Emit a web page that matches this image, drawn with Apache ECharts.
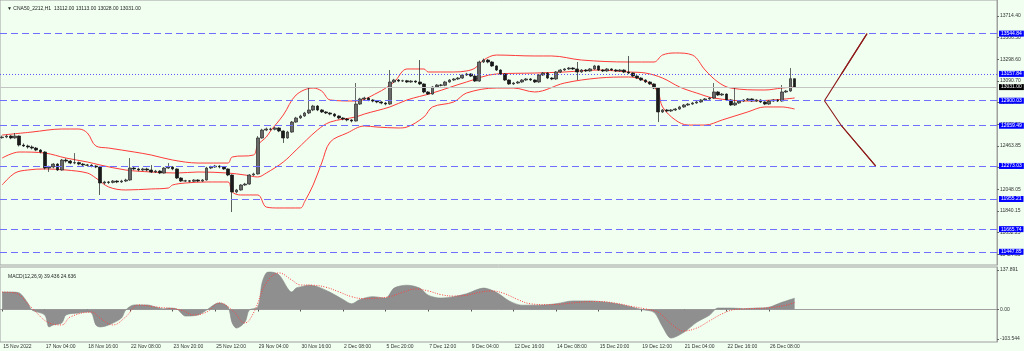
<!DOCTYPE html>
<html><head><meta charset="utf-8">
<script src="https://cdn.jsdelivr.net/npm/echarts@6/dist/echarts.min.js"></script>
<style>html,body{margin:0;padding:0;background:#f0fff0}#c{width:1024px;height:351px}</style>
</head><body><div id="c"></div><script>
const TOTAL_SLOTS = 234;
const titleText = '▼ CNA50_2212,H1  13112.00 13113.00 13028.00 13031.00';
const macdTitle = 'MACD(12,26,9) 39.436 24.636';
const xTickLabels = ['15 Nov 2022','17 Nov 04:00','18 Nov 16:00','22 Nov 08:00','23 Nov 20:00','25 Nov 12:00','29 Nov 04:00','30 Nov 16:00','2 Dec 08:00','5 Dec 20:00','7 Dec 12:00','9 Dec 04:00','12 Dec 16:00','14 Dec 08:00','15 Dec 20:00','19 Dec 12:00','21 Dec 04:00','22 Dec 16:00','26 Dec 08:00'];
const priceTicks = [13714.40,13506.50,13298.60,13090.70,12881.95,12672.90,12463.85,12255.95,12048.05,11840.15,11632.25,11424.35];
const macdTicks = [137.891, 0, -103.544];
const macdTickText = ['137.891','0.00','-103.544'];
const dashedLevels = [13544.84,12900.03,12659.49,12273.03,11955.21,11665.74,11447.85];
const dottedLevel = 13157.84;
const bidPrice = 13031.00;
const arrowUp = [[193,12900.03],[197,13157.84],[203,13544.84]];
const arrowDown = [[193,12900.03],[197,12659.49],[205,12273.03]];

// [open, close, low, high]
const candles = [
[12545,12551,12535,12565],[12551,12561,12540,12575],[12561,12542,12530,12570],[12542,12561,12535,12590],[12561,12474,12460,12565],
[12474,12465,12455,12490],[12465,12455,12440,12478],[12455,12445,12432,12470],[12445,12426,12415,12455],[12426,12407,12395,12435],
[12407,12253,12240,12415],[12253,12263,12215,12275],[12263,12291,12250,12300],[12291,12234,12225,12300],[12234,12330,12228,12340],
[12330,12320,12305,12345],[12320,12301,12290,12330],[12301,12305,12290,12397],[12305,12291,12280,12315],[12291,12282,12270,12300],
[12282,12280,12268,12292],[12280,12272,12260,12290],[12272,12263,12252,12280],[12263,12109,11994,12270],[12109,12119,12095,12130],
[12119,12115,12100,12128],[12115,12128,12105,12138],[12128,12119,12108,12135],[12119,12128,12110,12140],[12128,12138,12118,12150],
[12138,12253,12130,12349],[12253,12244,12232,12265],[12244,12234,12222,12255],[12234,12244,12225,12255],[12244,12234,12222,12256],
[12234,12215,12205,12282],[12215,12224,12205,12235],[12224,12205,12195,12232],[12205,12253,12200,12262],[12253,12263,12245,12301],
[12263,12244,12232,12270],[12244,12157,12148,12250],[12157,12128,12118,12165],[12128,12130,12118,12140],[12130,12126,12115,12138],
[12126,12138,12118,12146],[12138,12128,12118,12145],[12128,12138,12120,12147],[12138,12253,12132,12265],[12253,12263,12243,12275],
[12263,12272,12255,12283],[12272,12263,12250,12280],[12263,12244,12235,12270],[12244,12186,12175,12250],[12186,12023,11830,12192],
[12023,12042,12010,12052],[12042,12090,12035,12098],[12090,12099,12082,12110],[12099,12186,12092,12195],[12186,12196,12178,12208],
[12196,12542,12190,12560],[12542,12618,12535,12630],[12618,12628,12608,12642],[12628,12625,12612,12640],[12625,12638,12615,12650],
[12638,12609,12598,12645],[12609,12542,12494,12615],[12542,12599,12535,12610],[12599,12695,12592,12705],[12695,12734,12688,12745],
[12734,12753,12725,12765],[12753,12782,12745,12792],[12782,12811,12772,13032],[12811,12849,12800,12860],[12849,12811,12800,12858],
[12811,12792,12782,12820],[12792,12782,12772,12800],[12782,12772,12760,12790],[12772,12753,12742,12780],[12753,12734,12722,12760],
[12734,12724,12712,12742],[12724,12715,12702,12732],[12715,12705,12692,12722],[12705,12868,12700,13070],[12868,12917,12860,12928],
[12917,12926,12905,12938],[12926,12907,12895,12935],[12907,12897,12885,12915],[12897,12888,12876,12905],[12888,12878,12866,12896],
[12878,12868,12856,12886],[12868,13080,12860,13195],[13080,13099,13070,13110],[13099,13089,13078,13108],[13089,13092,13080,13102],
[13092,13080,13070,13100],[13080,13089,13072,13098],[13089,13080,13070,13095],[13080,13061,13050,13291],[13061,12984,12972,13068],
[12984,12964,12955,12992],[12964,13032,12958,13040],[13032,13051,13024,13060],[13051,13048,13038,13060],[13048,13080,13040,13090],
[13080,13099,13072,13108],[13099,13109,13090,13118],[13109,13118,13100,13128],[13118,13147,13110,13157],[13147,13157,13138,13168],
[13157,13137,13128,13165],[13137,13089,13080,13145],[13089,13272,13082,13285],[13272,13291,13262,13305],[13291,13272,13260,13300],
[13272,13234,13225,13280],[13234,13195,13186,13240],[13195,13157,13148,13202],[13157,13099,13090,13165],[13099,13061,13052,13106],
[13061,13070,13052,13080],[13070,13080,13062,13090],[13080,13099,13072,13108],[13099,13109,13090,13118],[13109,13099,13090,13118],
[13099,13080,13070,13105],[13080,13147,13072,13156],[13147,13166,13138,13175],[13166,13118,13108,13172],[13118,13109,13098,13126],
[13109,13176,13100,13185],[13176,13195,13168,13205],[13195,13205,13186,13214],[13205,13214,13196,13224],[13214,13205,13195,13222],
[13205,13176,13099,13272],[13176,13195,13168,13204],[13195,13186,13176,13204],[13186,13205,13178,13214],[13205,13234,13198,13244],
[13234,13195,13186,13240],[13195,13186,13176,13204],[13186,13205,13178,13214],[13205,13195,13186,13212],[13195,13186,13176,13204],
[13186,13195,13178,13204],[13195,13176,13166,13202],[13176,13166,13156,13330],[13166,13137,13128,13172],[13137,13118,13108,13145],
[13118,13099,13090,13126],[13099,13080,13070,13106],[13080,13061,13052,13088],[13061,13022,13012,13068],[13022,12792,12695,13030],
[12792,12811,12782,12820],[12811,12801,12790,12820],[12801,12811,12792,12820],[12811,12820,12802,12830],[12820,12840,12812,12850],
[12840,12859,12832,12868],[12859,12868,12850,12878],[12868,12878,12860,12888],[12878,12888,12870,12897],[12888,12907,12880,12916],
[12907,12917,12898,12926],[12917,12926,12908,12935],[12926,12984,12918,13070],[12984,12955,12946,12992],[12955,12964,12946,12974],
[12964,12907,12898,12970],[12907,12859,12850,12914],[12859,12878,12850,13022],[12878,12897,12870,12906],[12897,12907,12888,12916],
[12907,12917,12898,12926],[12917,12897,12888,12924],[12897,12907,12888,12916],[12907,12888,12878,12914],[12888,12868,12858,12895],
[12868,12897,12860,12906],[12897,12907,12888,12916],[12907,12897,12888,12914],[12897,12984,12890,13051],[12984,12993,12975,13002],
[12993,13112,12985,13214],[13112,13031,13028,13113]
];

const bbUpper = [[0,12570],[7,12599],[14,12628],[18,12628],[20,12590],[22,12465],[25,12445],[31,12407],[35,12378],[40,12330],[46,12301],[53,12301],[54,12359],[59,12378],[60,12474],[62,12551],[63,12609],[66,12763],[69,12955],[73,13022],[75,12993],[77,12907],[83,12897],[88,12974],[92,13080],[95,13205],[99,13205],[100,13176],[106,13176],[109,13186],[111,13214],[113,13291],[116,13339],[125,13330],[129,13330],[136,13291],[147,13272],[153,13272],[155,13339],[158,13359],[162,13339],[165,13195],[168,13080],[171,13022],[179,13003],[183,13022],[186,13032]];
const bbMiddle = [[0,12349],[4,12407],[10,12397],[15,12349],[20,12311],[23,12282],[29,12234],[35,12215],[41,12205],[46,12215],[53,12205],[57,12186],[60,12167],[62,12205],[66,12311],[69,12426],[74,12618],[77,12695],[83,12744],[85,12772],[91,12840],[95,12907],[101,12974],[109,13080],[116,13157],[125,13166],[132,13176],[140,13195],[147,13176],[151,13166],[155,13118],[159,13032],[163,12974],[167,12926],[175,12897],[181,12907],[186,12926]];
const bbLower = [[0,12090],[3,12205],[6,12234],[10,12244],[15,12234],[20,12205],[22,12157],[25,12071],[29,12042],[35,12052],[39,12061],[40,12090],[43,12109],[48,12119],[53,12119],[54,12023],[56,11994],[60,11994],[62,11878],[65,11869],[70,11869],[71,11930],[73,12090],[75,12301],[77,12503],[81,12590],[85,12657],[88,12647],[93,12638],[95,12647],[99,12744],[101,12840],[106,12888],[109,12974],[116,13022],[120,13022],[125,12984],[132,13070],[140,13118],[147,13128],[152,13070],[154,12974],[155,12840],[158,12715],[161,12666],[165,12666],[169,12715],[175,12792],[179,12840],[183,12840],[186,12820]];

const macdMain = [[0,61],[2,61],[4,58],[6,23],[7,-2],[10,-19],[11,-61],[12,-54],[14,-47],[15,-19],[18,-12],[20,-9],[21,-12],[22,-54],[23,-61],[25,-54],[28,-30],[29,-2],[31,16],[34,16],[36,9],[38,2],[39,5],[41,2],[42,-12],[43,-23],[46,-19],[48,-2],[50,19],[51,23],[53,9],[54,-47],[55,-65],[57,-44],[58,-2],[60,9],[61,93],[62,128],[63,131],[65,121],[68,61],[69,75],[70,79],[72,85],[74,80],[77,60],[80,35],[82,20],[84,35],[87,45],[90,40],[92,75],[95,85],[98,75],[100,50],[103,40],[106,45],[109,55],[113,75],[116,60],[119,30],[122,15],[126,15],[130,20],[134,30],[138,30],[142,25],[146,15],[150,0],[153,-10],[155,-60],[157,-100],[160,-80],[163,-45],[166,-20],[168,5],[171,5],[174,3],[177,5],[180,8],[183,25],[186,39.4]];
const macdSignal = [[0,61],[3,58],[7,5],[11,-47],[14,-54],[16,-26],[21,-9],[23,-30],[26,-54],[29,-26],[32,16],[36,9],[42,-2],[45,-19],[48,-9],[51,23],[54,-2],[57,-47],[59,-12],[62,93],[65,128],[68,103],[70,86],[73,85],[76,78],[79,62],[82,45],[85,38],[88,40],[91,45],[94,60],[97,72],[100,65],[103,52],[106,47],[109,50],[112,60],[115,65],[118,55],[121,35],[124,20],[128,17],[132,20],[136,26],[140,28],[144,22],[148,10],[151,2],[154,-10],[157,-50],[160,-75],[163,-65],[166,-40],[169,-15],[172,0],[176,3],[180,6],[184,15],[186,24.6]];

const FONT = 'Liberation Sans, Arial, sans-serif';
const categories = Array.from({length: TOTAL_SLOTS}, (_, i) => String(i));
const isTick = (idx) => idx % 10 === 0 && idx / 10 < xTickLabels.length;

const boxLabel = (bg) => ({
  show: true, position: 'end', distance: 2, fontSize: 5, fontFamily: FONT,
  color: '#ffffff', backgroundColor: bg, padding: [1, 2, 0, 2],
  formatter: p => Number(p.value).toFixed(2)
});

function levelSeries(values, lineStyle, labelBg) {
  return {
    type: 'line', xAxisIndex: 0, yAxisIndex: 0, data: [], silent: true, z: 1,
    markLine: {
      silent: true, symbol: 'none', animation: false,
      lineStyle: lineStyle, label: boxLabel(labelBg),
      data: values.map(v => ({yAxis: v}))
    }
  };
}

const bandStyle = {type: 'line', xAxisIndex: 0, yAxisIndex: 0, showSymbol: false, smooth: 0.35,
  lineStyle: {color: '#ff3a3a', width: 1}, silent: true, z: 3};

const arrowColor = '#8e1a1a';
function arrowSeries(pts) {
  return {
    type: 'line', xAxisIndex: 0, yAxisIndex: 0, data: pts, silent: true, z: 6,
    symbol: 'circle', symbolSize: (v, p) => p.dataIndex === 1 ? 3 : 0,
    itemStyle: {color: '#c06060'},
    lineStyle: {color: arrowColor, width: 1.1},
    markLine: {
      silent: true, symbol: ['none', 'arrow'], symbolSize: [0, 5], label: {show: false},
      lineStyle: {color: arrowColor, width: 1.1, type: 'solid'},
      data: [[{coord: pts[1]}, {coord: pts[2]}]]
    }
  };
}

const chart = echarts.init(document.getElementById('c'), null, {renderer: 'canvas'});
chart.setOption({
  animation: false,
  backgroundColor: '#f0fff0',
  title: [
    {text: titleText, left: 2, top: 1, textStyle: {fontSize: 5, fontWeight: 'normal', color: '#222', fontFamily: FONT}},
    {text: macdTitle, left: 3, top: 269, textStyle: {fontSize: 5, fontWeight: 'normal', color: '#222', fontFamily: FONT}}
  ],
  grid: [
    {left: 0, right: 27, top: 0, height: 265, show: true, borderColor: '#a0a0a0', borderWidth: 1, backgroundColor: 'transparent'},
    {left: 0, right: 27, top: 267, height: 75, show: true, borderColor: '#a0a0a0', borderWidth: 1, backgroundColor: 'transparent'}
  ],
  xAxis: [
    {type: 'category', gridIndex: 0, data: categories, boundaryGap: true,
     axisLine: {show: false}, axisTick: {show: false}, axisLabel: {show: false}, splitLine: {show: false}},
    {type: 'category', gridIndex: 1, data: categories, boundaryGap: true,
     axisLine: {show: true, lineStyle: {color: '#a0a0a0'}},
     axisTick: {show: true, alignWithLabel: true, interval: isTick, length: 2, lineStyle: {color: '#555'}},
     axisLabel: {show: true, interval: isTick, formatter: (v, idx) => isTick(idx) ? xTickLabels[idx / 10] : '',
       fontSize: 5, color: '#333', fontFamily: FONT, align: 'left', margin: 2, padding: [0, 0, 0, 1]},
     splitLine: {show: false}}
  ],
  yAxis: [
    {type: 'value', gridIndex: 0, position: 'right', min: 11321, max: 13868, scale: true,
     axisLine: {show: true, lineStyle: {color: '#a0a0a0'}},
     axisTick: {show: true, length: 2, customValues: priceTicks, lineStyle: {color: '#666'}},
     axisLabel: {show: true, customValues: priceTicks, formatter: v => Number(v).toFixed(2),
       fontSize: 5, color: '#333', fontFamily: FONT, margin: 3},
     splitLine: {show: false}},
    {type: 'value', gridIndex: 1, position: 'right', min: -113.75, max: 148.75,
     axisLine: {show: true, lineStyle: {color: '#a0a0a0'}},
     axisTick: {show: true, length: 2, customValues: macdTicks, lineStyle: {color: '#666'}},
     axisLabel: {show: true, customValues: macdTicks,
       formatter: v => { const k = macdTicks.indexOf(v); return k >= 0 ? macdTickText[k] : ''; },
       fontSize: 5, color: '#333', fontFamily: FONT, margin: 3},
     splitLine: {show: false}}
  ],
  series: [
    levelSeries(dashedLevels, {color: '#6f6fff', type: [7, 4], width: 1, opacity: 1}, '#0000ff'),
    levelSeries([dottedLevel], {color: '#5a5aff', type: [1, 2], width: 1, opacity: 1}, '#0000ff'),
    levelSeries([bidPrice], {color: '#c4c4c4', type: 'solid', width: 1, opacity: 1}, '#000000'),
    {type: 'candlestick', xAxisIndex: 0, yAxisIndex: 0, data: candles, barWidth: 3.2, silent: true, z: 4,
     itemStyle: {color: '#6a6a6a', color0: '#1a1a1a', borderColor: '#2a2a2a', borderColor0: '#1a1a1a', borderWidth: 0.7}},
    Object.assign({data: bbUpper}, bandStyle),
    Object.assign({data: bbMiddle}, bandStyle),
    Object.assign({data: bbLower}, bandStyle),
    arrowSeries(arrowUp),
    arrowSeries(arrowDown),
    {type: 'line', xAxisIndex: 1, yAxisIndex: 1, data: macdMain, showSymbol: false, smooth: 0.3, silent: true,
     lineStyle: {color: '#858585', width: 0.6}, areaStyle: {color: '#8f8f8f', opacity: 1}},
    {type: 'line', xAxisIndex: 1, yAxisIndex: 1, data: macdSignal, showSymbol: false, smooth: 0.4, silent: true, z: 5,
     lineStyle: {color: '#ff4040', width: 1, type: [1, 1.5]}}
  ]
});
</script></body></html>
